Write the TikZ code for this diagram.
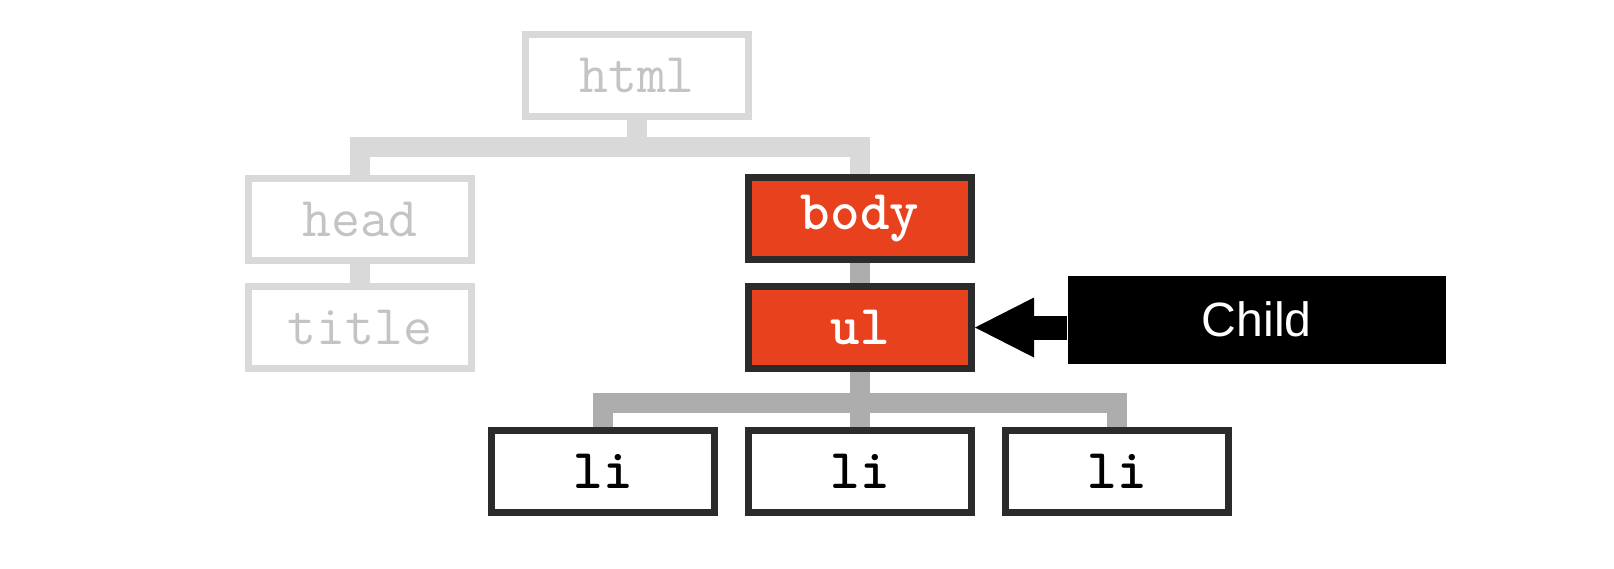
\documentclass[tikz,border=0pt]{standalone}
\usepackage{fontspec}
\setsansfont{Liberation Sans}
\usepackage{tikz}
\usetikzlibrary{positioning,arrows.meta}
\definecolor{domred}{HTML}{E8411E}
\definecolor{fadegray}{HTML}{D9D9D9}
\definecolor{fadetext}{HTML}{C4C4C4}
\definecolor{edgegray}{HTML}{ADADAD}
\definecolor{boxdark}{HTML}{2B2B2B}
\newcommand{\domfont}{\fontsize{16}{19}\selectfont\ttfamily}
\tikzstyle{tag}=   [rectangle,
minimum width=2.23cm,
minimum height=0.82cm,
line width=0.07cm,
inner sep=0,
]
\tikzstyle{faded}= [tag,
draw=fadegray,
text=fadetext,
font=\domfont,
]
\tikzstyle{active}=[tag,
draw=boxdark,
fill=domred,
text=white,
font=\domfont\bfseries,
]
\tikzstyle{leaf}=  [tag,
draw=boxdark,
fill=white,
text=black,
font=\domfont\bfseries,
]
\tikzstyle{callout}=[rectangle,
fill=black,
text=white,
minimum width=3.78cm,
minimum height=0.88cm,
font=\fontsize{13.7}{16}\selectfont\sffamily,
]
\tikzstyle{fadelink}=[draw=fadegray, line width=0.2cm]
\tikzstyle{treelink}=[draw=edgegray, line width=0.2cm]

\begin{document}
\begin{tikzpicture}
        \useasboundingbox (0,0) rectangle (16.14,-5.68);
        \node[faded] (html) at (6.37,-0.755) {html};
        \node[faded] (head) at (3.60,-2.19) {head};
        \node[faded, below=0.19cm of head] (title) {title};
        \node[active] (body) at (8.60,-2.185) {body};
        \node[active, below=0.20cm of body] (ul) {ul};
        \node[leaf, below=0.55cm of ul] (li2) {li};
        \node[leaf, left=0.27cm of li2] (li1) {li};
        \node[leaf, right=0.27cm of li2] (li3) {li};
        \node[callout, right=0.92cm of ul, yshift=0.08cm] (child) {Child};

        \coordinate (topbar) at (html.south |- 0,-1.47);
        \coordinate (lowbar) at (ul.south |- 0,-4.025);
        \draw[fadelink] (html.south) -- (topbar);
        \draw[fadelink] (head.north) |- (topbar) -| (body.north);
        \draw[fadelink] (head) -- (title);
        \draw[treelink] (body) -- (ul);
        \draw[treelink] (ul) -- (li2);
        \draw[treelink] (li1.north) |- (lowbar) -| (li3.north);

        \draw[line width=0.24cm, -{Triangle[length=0.59cm,width=0.6cm,line width=0pt]}] (child.west |- ul.east) -- (ul.east);
\end{tikzpicture}
\end{document}
